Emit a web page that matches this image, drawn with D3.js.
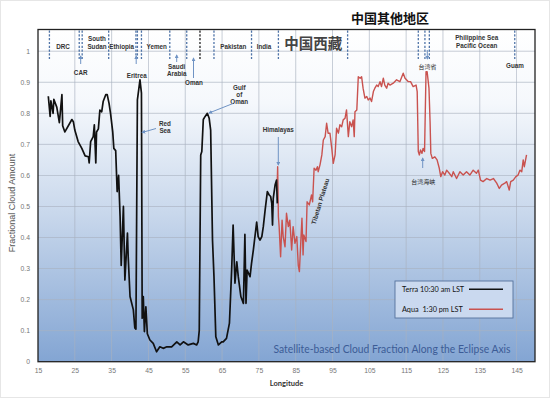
<!DOCTYPE html>
<html><head><meta charset="utf-8">
<script src="https://cdn.jsdelivr.net/npm/d3@7"></script>
<style>body{margin:0;background:#fff}svg{display:block}</style>
</head><body>
<svg id="c" width="550" height="398"></svg>
<script>
// ---- data ----
const terraLon = [17.8,18.3,18.5,19.1,19.3,20.1,20.8,21.5,21.7,22.3,24.2,24.6,25.0,25.9,26.9,27.8,28.7,28.9,29.3,30.0,30.3,30.7,30.9,31.4,31.8,32.3,32.7,33.4,33.8,34.3,34.7,35.3,35.6,36.1,36.5,36.9,37.3,37.6,38.2,38.6,39.3,39.5,40.0,40.9,41.3,41.6,42.0,42.7,43.1,43.3,43.6,43.9,44.3,44.7,45.4,46.3,47.2,48.1,49.0,50.0,51.3,52.7,53.6,54.5,55.8,57.2,58.1,58.5,58.8,59.2,59.5,59.9,60.4,61.0,61.5,61.9,62.4,62.8,63.3,64.0,64.9,65.3,66.2,67.0,67.6,68.0,68.5,69.0,69.4,70.1,70.8,71.2,71.5,71.8,72.6,73.0,73.5,74.4,74.8,75.3,75.8,76.2,76.7,77.3,77.8,78.2,78.5,78.7,78.9,79.4,79.8,80.0];
const terraVal = [.855,.79,.84,.80,.845,.82,.77,.86,.76,.74,.78,.773,.746,.709,.687,.663,.66,.64,.709,.725,.763,.64,.74,.75,.81,.805,.838,.86,.86,.832,.80,.74,.687,.68,.548,.60,.467,.31,.50,.263,.414,.338,.21,.167,.109,.105,.843,.908,.865,.14,.21,.097,.177,.09,.07,.059,.032,.048,.043,.048,.048,.064,.054,.064,.054,.059,.054,.064,.10,.666,.677,.78,.79,.80,.784,.746,.392,.274,.08,.054,.064,.064,.075,.124,.295,.44,.253,.322,.274,.21,.188,.41,.188,.295,.274,.317,.36,.45,.403,.392,.403,.435,.489,.548,.537,.532,.51,.44,.526,.569,.585,.51];
const aquaLon = [80.0,80.1,80.3,80.5,80.9,81.3,81.6,82.1,82.5,83.0,83.4,83.9,84.3,84.8,85.3,85.7,86.0,86.4,86.7,87.0,87.2,87.8,88.1,88.7,89.3,89.6,90.0,90.5,90.9,91.1,91.6,92.1,92.5,93.0,93.4,93.8,94.3,94.8,95.2,95.7,96.1,96.6,97.0,97.5,97.9,98.4,98.8,99.3,99.7,100.2,100.6,100.9,101.1,101.6,102.0,102.5,102.9,103.3,103.8,104.3,104.7,105.2,105.6,106.1,106.5,107.0,107.4,107.9,108.3,108.8,109.2,109.7,110.1,110.6,111.5,112.4,113.3,114.2,114.7,115.6,116.2,116.9,117.7,118.0,118.3,118.6,118.9,119.3,119.6,120.0,120.4,120.7,121.2,121.5,121.7,122.1,122.8,123.4,124.0,124.4,124.9,125.5,126.0,126.7,127.4,127.8,128.7,129.6,130.5,131.4,132.3,133.2,134.1,134.6,135.2,135.9,136.9,137.8,138.7,139.6,140.3,140.9,141.8,142.3,143.0,143.4,144.1,144.8,145.4,145.9,146.4,146.8,147.1,147.7];
const aquaVal = [.585,.628,.467,.435,.338,.456,.403,.37,.478,.435,.456,.36,.435,.381,.403,.31,.29,.39,.462,.344,.408,.387,.515,.505,.537,.515,.623,.617,.628,.612,.634,.666,.714,.725,.768,.736,.736,.687,.639,.666,.752,.736,.763,.757,.779,.784,.811,.725,.773,.757,.779,.725,.805,.811,.918,.913,.918,.881,.849,.854,.843,.849,.838,.87,.881,.891,.886,.902,.886,.913,.891,.881,.897,.891,.897,.908,.902,.929,.913,.902,.902,.886,.891,.87,.677,.666,.682,.671,.687,.677,.934,.934,.881,.773,.671,.655,.66,.65,.623,.596,.612,.601,.617,.607,.596,.612,.59,.612,.601,.612,.601,.617,.607,.617,.585,.58,.59,.585,.59,.575,.558,.569,.575,.58,.553,.58,.585,.596,.601,.617,.612,.65,.628,.666];
const xTicks = [15,25,35,45,55,65,75,85,95,105,115,125,135,145];
const yTicks = [0,0.1,0.2,0.3,0.4,0.5,0.6,0.7,0.8,0.9,1];
const boundaryLon = [18.1,26.2,27.0,34.2,41.6,42.0,43.1,50.8,55.4,62.8,73.0,80.3,99.1,118.3,120.1,121.3,144.5];
const boundaryDark = [59.0];
const seriesNames = ["Terra 10:30 am LST","Aqua  1:30 pm LST"];

// ---- layout ----
const svg = d3.select("#c");
const L=38,R=535,T=29.5,B=361.7;
const x = d3.scaleLinear().domain([15,150]).range([L,R]);
const y = d3.scaleLinear().domain([0,1.07]).range([B,T]);

const defs = svg.append("defs");
const g = defs.append("linearGradient").attr("id","bg").attr("x1",0).attr("y1",0).attr("x2",0).attr("y2",1);
[[0,"#ffffff"],[0.22,"#f5f8fc"],[0.55,"#c9d8ec"],[1,"#83a5d3"]].forEach(s=>g.append("stop").attr("offset",s[0]).attr("stop-color",s[1]));

svg.append("rect").attr("x",0.5).attr("y",0.5).attr("width",549).attr("height",397).attr("fill","#fff").attr("stroke","#e6e6e6");
svg.append("rect").attr("x",L).attr("y",T).attr("width",R-L).attr("height",B-T).attr("fill","url(#bg)");

// grid
svg.append("g").selectAll("line").data(xTicks.filter(d=>d>15)).join("line")
  .attr("x1",d=>x(d)).attr("x2",d=>x(d)).attr("y1",T).attr("y2",B)
  .attr("stroke","#a9b3c0").attr("stroke-width",0.8).attr("opacity",0.8);
svg.append("g").selectAll("line").data(yTicks.filter(d=>d>0)).join("line")
  .attr("x1",L).attr("x2",R).attr("y1",d=>y(d)).attr("y2",d=>y(d))
  .attr("stroke","#a9b3c0").attr("stroke-width",0.8).attr("opacity",0.8);

// axes
const xa = svg.append("g").attr("transform",`translate(0,${B})`)
  .call(d3.axisBottom(x).tickValues(xTicks).tickSize(0).tickPadding(6).tickFormat(d3.format("d")));
const ya = svg.append("g").attr("transform",`translate(${L},0)`)
  .call(d3.axisLeft(y).tickValues(yTicks).tickSize(0).tickPadding(8).tickFormat(d=>d===0?"0":d===1?"1":d3.format(".1f")(d)));
[xa,ya].forEach(a=>{a.select(".domain").remove();a.selectAll("text").attr("fill","#777").attr("font-size","6.8px").attr("font-family","Liberation Sans, Arial, sans-serif");});

// boundaries
svg.append("g").selectAll("line").data(boundaryLon).join("line")
  .attr("x1",d=>x(d)).attr("x2",d=>x(d)).attr("y1",T+1).attr("y2",y(0.975))
  .attr("stroke","#4f74a8").attr("stroke-width",1.3).attr("stroke-dasharray","2.2,1.6");
svg.append("g").selectAll("line").data(boundaryDark).join("line")
  .attr("x1",d=>x(d)).attr("x2",d=>x(d)).attr("y1",T+1).attr("y2",y(0.975))
  .attr("stroke","#222").attr("stroke-width",1.3).attr("stroke-dasharray","2.2,1.6");

// lines
const line = d3.line().x(d=>x(d[0])).y(d=>y(d[1]));
const terra = terraLon.map((d,i)=>[d,terraVal[i]]);
const aqua = aquaLon.map((d,i)=>[d,aquaVal[i]]);
svg.append("path").datum(aqua).attr("d",line).attr("fill","none").attr("stroke","#c9524f").attr("stroke-width",1.4).attr("stroke-linejoin","round");
svg.append("path").datum(terra).attr("d",line).attr("fill","none").attr("stroke","#111").attr("stroke-width",1.7).attr("stroke-linejoin","round");

// frame
svg.append("rect").attr("x",L).attr("y",T).attr("width",R-L).attr("height",B-T).attr("fill","none").attr("stroke","#222").attr("stroke-width",1.3);

// labels
const lab = svg.append("g").attr("font-family","Liberation Sans, Arial, sans-serif").attr("font-weight","bold").attr("font-size","6.3px").attr("fill","#333").attr("text-anchor","middle");
const labels = [
 ["DRC",63,48.5],["South",97,41],["Sudan",97,48.5],["Ethiopia",121.7,48.5],["Yemen",156.7,48.5],["Pakistan",233.3,48.5],["India",264,48.5],
 ["CAR",80.7,74.5],["Eritrea",136.7,77.5],["Saudi",176.7,69],["Arabia",176.7,75.5],["Oman",194,85],
 ["Gulf",239.3,89.5],["of",239.3,96.5],["Oman",239.3,104],["Red",165,125.5],["Sea",165,133],["Himalayas",278.3,131.5],
 ["Philippine Sea",476.7,40],["Pacific Ocean",476.7,47.5],["Guam",515,68]
];
lab.selectAll("text").data(labels).join("text").attr("x",d=>d[1]).attr("y",d=>d[2]).text(d=>d[0]);

const cjk = "Noto Sans CJK SC, sans-serif";
svg.append("text").attr("x",427.5).attr("y",68.5).attr("text-anchor","middle").attr("font-family",cjk).attr("font-size","6px").attr("fill","#222").text("台湾省");
svg.append("text").attr("x",423.3).attr("y",184).attr("text-anchor","middle").attr("font-family",cjk).attr("font-size","6px").attr("fill","#222").text("台湾海峡");
svg.append("text").attr("x",390).attr("y",23).attr("text-anchor","middle").attr("font-family",cjk).attr("font-weight","bold").attr("font-size","13px").attr("fill","#111").text("中国其他地区");
svg.append("text").attr("x",313.3).attr("y",48.5).attr("text-anchor","middle").attr("font-family",cjk).attr("font-weight","bold").attr("font-size","14.5px").attr("fill","#444").text("中国西藏");

svg.append("text").attr("transform","translate(322.5,202) rotate(-73)").attr("text-anchor","middle")
  .attr("font-family","Liberation Sans, Arial, sans-serif").attr("font-weight","bold").attr("font-size","6.5px").attr("fill","#333").text("Tibetan Plateau");

// arrows
defs.append("marker").attr("id","ah").attr("viewBox","0 0 10 10").attr("refX",8).attr("refY",5)
  .attr("markerWidth",4).attr("markerHeight",4).attr("orient","auto")
  .append("path").attr("d","M0,0L10,5L0,10z").attr("fill","#6f93c4");
const arrows = [[80.7,64,80.7,56],[136.2,64,136.2,56],[176.7,62,176.7,55],[193.5,78,193.5,58],
  [233,103.5,209,113],[156,128.5,142,132.5],[278.3,137,278.3,165],[427.3,50,427.3,59],[422.7,168,422.7,158]];
svg.append("g").selectAll("line").data(arrows).join("line")
  .attr("x1",d=>d[0]).attr("y1",d=>d[1]).attr("x2",d=>d[2]).attr("y2",d=>d[3])
  .attr("stroke","#6f93c4").attr("stroke-width",1).attr("marker-end","url(#ah)");

// legend
const lg = svg.append("g");
lg.append("rect").attr("x",395).attr("y",281).attr("width",118).attr("height",37).attr("fill","#cad9ef").attr("stroke","#55719c").attr("stroke-width",0.9);
const lc = ["#111","#c9524f"];
seriesNames.forEach((n,i)=>{
  lg.append("text").attr("x",402).attr("y",291.8+i*20).attr("font-family","Lato, sans-serif").attr("font-size","7.3px").attr("fill","#111").attr("xml:space","preserve").text(n);
  lg.append("line").attr("x1",469).attr("x2",503).attr("y1",289.3+i*20).attr("y2",289.3+i*20).attr("stroke",lc[i]).attr("stroke-width",i?1.6:1.4);
});

svg.append("text").attr("x",273.5).attr("y",352.5).attr("font-family","Liberation Sans Narrow, Lato, sans-serif").attr("font-size","11.6px").attr("fill","#3c5c96")
  .attr("textLength",237).attr("lengthAdjust","spacingAndGlyphs").text("Satellite-based Cloud Fraction Along the Eclipse Axis");

svg.append("text").attr("x",286.5).attr("y",385.5).attr("text-anchor","middle").attr("font-family","Lato, sans-serif").attr("font-weight","bold").attr("font-size","7.5px").attr("fill","#333").text("Longitude");
svg.append("text").attr("transform","translate(14.5,203) rotate(-90)").attr("text-anchor","middle").attr("font-family","Liberation Sans, Arial, sans-serif").attr("font-size","9px").attr("fill","#555").text("Fractional Cloud Amount");
</script>
</body></html>
